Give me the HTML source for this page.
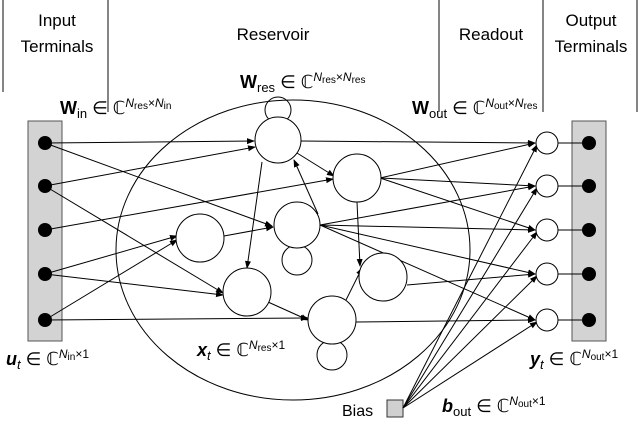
<!DOCTYPE html>
<html><head><style>
body{margin:0;background:#fff}
svg{display:block}
text{font-family:"Liberation Sans",sans-serif;fill:#000}
.m{font-family:"Liberation Serif",serif}
</style></head><body>
<svg width="640" height="441" viewBox="0 0 640 441">
<defs><marker id="a" markerWidth="8" markerHeight="8" refX="7" refY="3" orient="auto" markerUnits="userSpaceOnUse"><path d="M0,0 L8,3 L0,6z" fill="#000"/></marker></defs>
<g stroke="#333" stroke-width="1.2">
<line x1="3" y1="0" x2="3" y2="92"/><line x1="108" y1="0" x2="108" y2="112"/><line x1="439" y1="0" x2="439" y2="112"/><line x1="543" y1="0" x2="543" y2="112"/><line x1="637" y1="0" x2="637" y2="112"/>
</g>
<g font-size="17" text-anchor="middle">
<text x="57" y="26">Input</text><text x="57" y="52">Terminals</text>
<text x="273" y="40">Reservoir</text><text x="491" y="40">Readout</text>
<text x="591" y="26">Output</text><text x="591" y="52">Terminals</text>
</g>
<g class="m" font-size="18">
<text x="240" y="88"><tspan font-weight="bold">W</tspan><tspan font-size="13" dy="4">res</tspan><tspan dy="-4"> ∈ ℂ</tspan><tspan font-size="12" dy="-7" font-style="italic">N</tspan><tspan font-size="10" dy="2">res</tspan><tspan font-size="12" dy="-2">×</tspan><tspan font-size="12" font-style="italic">N</tspan><tspan font-size="10" dy="2">res</tspan></text>
<text x="60" y="114"><tspan font-weight="bold">W</tspan><tspan font-size="13" dy="4">in</tspan><tspan dy="-4"> ∈ ℂ</tspan><tspan font-size="12" dy="-7" font-style="italic">N</tspan><tspan font-size="10" dy="2">res</tspan><tspan font-size="12" dy="-2">×</tspan><tspan font-size="12" font-style="italic">N</tspan><tspan font-size="10" dy="2">in</tspan></text>
<text x="412" y="114"><tspan font-weight="bold">W</tspan><tspan font-size="13" dy="4">out</tspan><tspan dy="-4"> ∈ ℂ</tspan><tspan font-size="12" dy="-7" font-style="italic">N</tspan><tspan font-size="10" dy="2">out</tspan><tspan font-size="12" dy="-2">×</tspan><tspan font-size="12" font-style="italic">N</tspan><tspan font-size="10" dy="2">res</tspan></text>
<text x="6" y="365"><tspan font-weight="bold" font-style="italic">u</tspan><tspan font-size="13" dy="4" font-style="italic">t</tspan><tspan dy="-4"> ∈ ℂ</tspan><tspan font-size="12" dy="-7" font-style="italic">N</tspan><tspan font-size="10" dy="2">in</tspan><tspan font-size="12" dy="-2">×1</tspan></text>
<text x="197" y="356"><tspan font-weight="bold" font-style="italic">x</tspan><tspan font-size="13" dy="4" font-style="italic">t</tspan><tspan dy="-4"> ∈ ℂ</tspan><tspan font-size="12" dy="-7" font-style="italic">N</tspan><tspan font-size="10" dy="2">res</tspan><tspan font-size="12" dy="-2">×1</tspan></text>
<text x="530" y="365"><tspan font-weight="bold" font-style="italic">y</tspan><tspan font-size="13" dy="4" font-style="italic">t</tspan><tspan dy="-4"> ∈ ℂ</tspan><tspan font-size="12" dy="-7" font-style="italic">N</tspan><tspan font-size="10" dy="2">out</tspan><tspan font-size="12" dy="-2">×1</tspan></text>
<text x="442" y="412"><tspan font-weight="bold" font-style="italic">b</tspan><tspan font-size="13" dy="4">out</tspan><tspan dy="-4"> ∈ ℂ</tspan><tspan font-size="12" dy="-7" font-style="italic">N</tspan><tspan font-size="10" dy="2">out</tspan><tspan font-size="12" dy="-2">×1</tspan></text>
</g>
<text x="342" y="416" font-size="16">Bias</text>
<rect x="387" y="400" width="16" height="17" fill="#d0d0d0" stroke="#333"/>
<ellipse cx="293" cy="250" rx="177" ry="150" fill="none" stroke="#000" stroke-width="1"/>
<rect x="28" y="121" width="34" height="220" fill="#d3d3d3" stroke="#555"/>
<rect x="572" y="121" width="34" height="220" fill="#d3d3d3" stroke="#555"/>
<g fill="#000">
<circle cx="45" cy="143" r="7"/><circle cx="45" cy="186" r="7"/><circle cx="45" cy="230" r="7"/><circle cx="45" cy="274" r="7"/><circle cx="45" cy="320" r="7"/>
<circle cx="589" cy="143" r="7"/><circle cx="589" cy="186" r="7"/><circle cx="589" cy="230" r="7"/><circle cx="589" cy="274" r="7"/><circle cx="589" cy="320" r="7"/>
</g>
<g fill="none" stroke="#000" stroke-width="1">
<circle cx="278" cy="110" r="13"/>
<circle cx="297" cy="260" r="15"/>
<circle cx="332" cy="355" r="15"/>
</g>
<g stroke="#000" stroke-width="1" fill="none">
<line x1="558" y1="143" x2="582" y2="143"/><line x1="558" y1="186" x2="582" y2="186"/><line x1="558" y1="230" x2="582" y2="230"/><line x1="558" y1="274" x2="582" y2="274"/><line x1="558" y1="320" x2="582" y2="320"/>
<g marker-end="url(#a)">
<line x1="45" y1="143" x2="254" y2="141"/>
<line x1="45" y1="143" x2="272" y2="226"/>
<line x1="45" y1="186" x2="255" y2="147"/>
<line x1="45" y1="186" x2="223" y2="293"/>
<line x1="45" y1="230" x2="333" y2="179"/>
<line x1="45" y1="274" x2="177" y2="236"/>
<line x1="45" y1="274" x2="223" y2="295"/>
<line x1="45" y1="320" x2="177" y2="240"/>
<line x1="45" y1="320" x2="308" y2="318"/>
<line x1="262" y1="162" x2="247" y2="268"/>
<line x1="318" y1="214" x2="294" y2="160"/>
<line x1="297" y1="153" x2="334" y2="176"/>
<line x1="357" y1="202" x2="360" y2="266"/>
<line x1="224" y1="236" x2="273" y2="227"/>
<line x1="268" y1="302" x2="308" y2="320"/>
<line x1="346" y1="300" x2="362" y2="268"/>
<line x1="301" y1="141" x2="535" y2="143"/>
<line x1="380" y1="178" x2="535" y2="143"/>
<line x1="380" y1="178" x2="535" y2="186"/>
<line x1="380" y1="178" x2="535" y2="230"/>
<line x1="320" y1="225" x2="535" y2="186"/>
<line x1="320" y1="225" x2="535" y2="230"/>
<line x1="320" y1="225" x2="535" y2="274"/>
<line x1="320" y1="225" x2="535" y2="320"/>
<line x1="407" y1="285" x2="535" y2="274"/>
<line x1="356" y1="322" x2="535" y2="320"/>
<line x1="403" y1="408" x2="537" y2="145"/>
<line x1="403" y1="408" x2="537" y2="188"/>
<line x1="403" y1="408" x2="537" y2="232"/>
<line x1="403" y1="408" x2="537" y2="276"/>
<line x1="403" y1="408" x2="537" y2="322"/>
</g>
</g>
<g fill="#fff" stroke="#000" stroke-width="1">
<circle cx="278" cy="140" r="23"/><circle cx="357" cy="178" r="24"/><circle cx="297" cy="225" r="23"/>
<circle cx="200" cy="238" r="24"/><circle cx="247" cy="292" r="24"/><circle cx="383" cy="277" r="24"/><circle cx="332" cy="320" r="24"/>
<circle cx="547" cy="143" r="11"/><circle cx="547" cy="186" r="11"/><circle cx="547" cy="230" r="11"/><circle cx="547" cy="274" r="11"/><circle cx="547" cy="320" r="11"/>
</g>
</svg>
</body></html>
